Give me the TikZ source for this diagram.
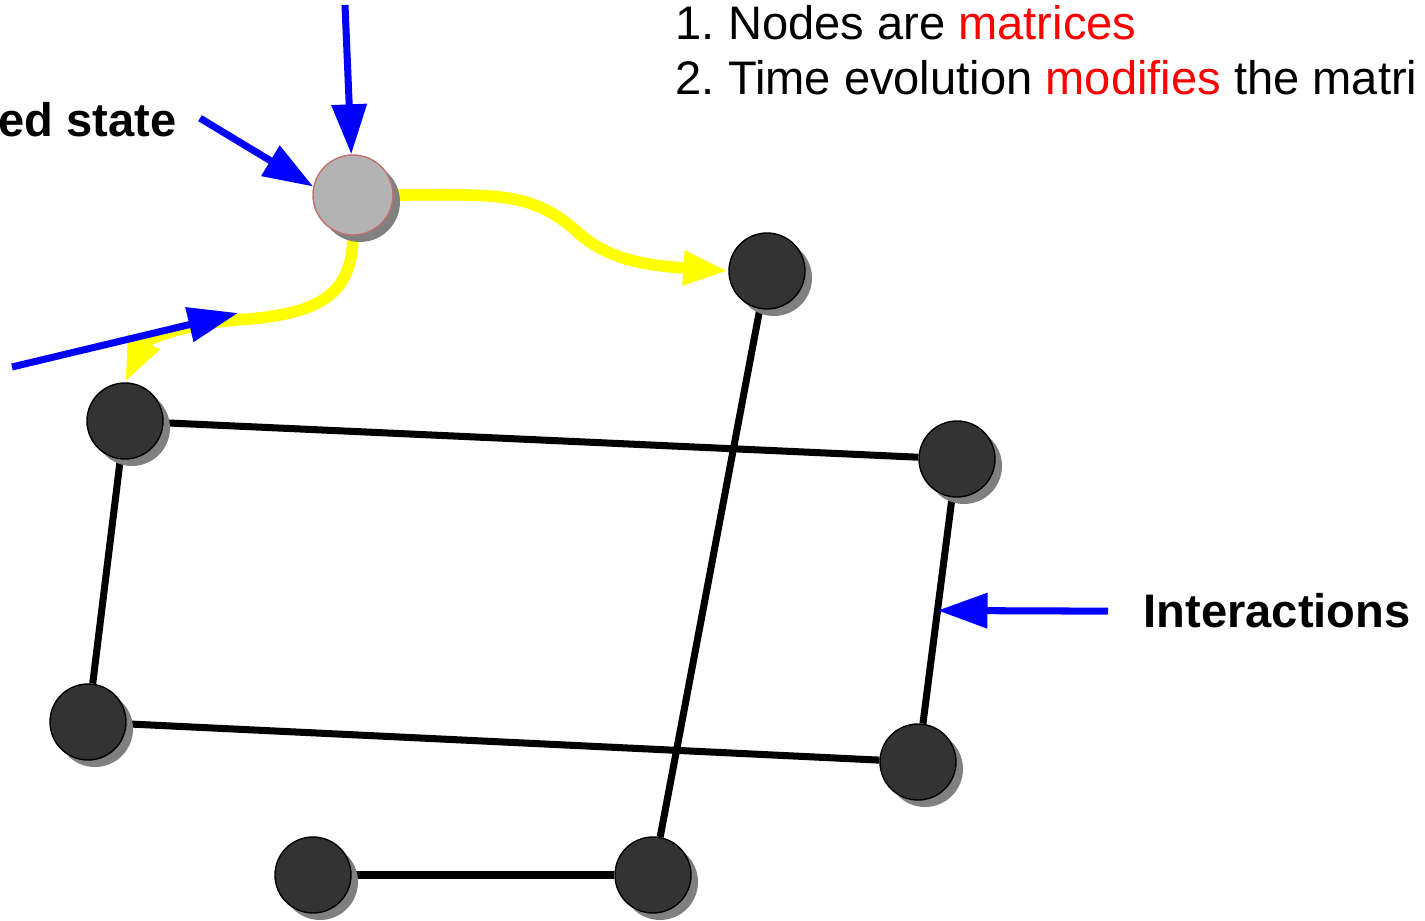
\documentclass[tikz,border=0pt]{standalone}
\usepackage{fontspec}
\setmainfont{Liberation Sans}
\frenchspacing
\usetikzlibrary{arrows.meta,shadows,backgrounds}
\definecolor{azul}{HTML}{0000FF}
\definecolor{rojo}{HTML}{FF0000}
\definecolor{amarillo}{HTML}{FFFF00}
\definecolor{oscuro}{HTML}{333333}
\definecolor{claro}{HTML}{B3B3B3}
\definecolor{sombra}{HTML}{808080}
\definecolor{borde}{HTML}{C07070}
\tikzset{
  nodo/.style={circle,draw=black,thin,fill=oscuro,minimum size=7.6mm,inner sep=0pt,
    drop shadow={shadow xshift=0.7mm,shadow yshift=-0.7mm,fill=sombra,opacity=1}},
  nodogris/.style={nodo,draw=borde,fill=claro,minimum size=8mm},
  enlace/.style={line width=2pt,black},
  flecha/.style={-{Triangle[length=5mm,width=3.4mm]},line width=2pt,azul},
  camino/.style={-{Triangle[length=4.5mm,width=3.2mm]},line width=3.3pt,amarillo},
  rotulo/.style={font=\fontsize{13.4pt}{16pt}\selectfont\bfseries,inner sep=0pt},
  texto/.style={font=\fontsize{13.4pt}{16pt}\selectfont,inner sep=0pt},
}

\begin{document}
\begin{tikzpicture}
  \useasboundingbox (0,0) rectangle (14.25,-9.21);
  \node[nodogris] (G) at (3.53,-1.95) {};
  \node[nodo] (N1) at (7.67,-2.71) {};
  \node[nodo] (A) at (1.25,-4.21) {};
  \node[nodo] (B) at (9.57,-4.59) {};
  \node[nodo] (C) at (0.88,-7.22) {};
  \node[nodo] (D) at (9.18,-7.62) {};
  \node[nodo] (E) at (6.53,-8.75) {};
  \node[nodo] (F) at (3.13,-8.75) {};
  \begin{scope}[on background layer]
    \draw[enlace] (A) -- (B);
    \draw[enlace] (A) -- (C);
    \draw[enlace] (C) -- (D);
    \draw[enlace] (B) -- coordinate (bd) (D);
    \draw[enlace] (N1) -- (E);
    \draw[enlace] (F) -- (E);
    \draw[camino] (G.east) .. controls (4.9,-1.95) and (5.3,-1.9) .. (5.75,-2.3)
      .. controls (6.05,-2.58) and (6.4,-2.65) .. (N1.west);
    \draw[camino] (G.south) .. controls (3.52,-2.95) and (3.2,-3.15) .. (2.35,-3.2)
      .. controls (1.8,-3.25) and (1.45,-3.4) .. (A.north);
  \end{scope}
  \node[rotulo,anchor=base east] (estado) at (1.77,-1.37) {ed state};
  \node[rotulo,anchor=base west] (inter) at (11.43,-6.28) {Interactions};
  \node[texto,anchor=base west] (l1) at (6.75,-0.40) {1. Nodes are \textcolor{rojo}{matrices}};
  \node[texto,anchor=base west] (l2) at (6.75,-0.95) {2. Time evolution \textcolor{rojo}{modifies} the matri};
  \coordinate (arriba) at (3.45,-0.05);
  \coordinate (izq) at (0.12,-3.67);
  \coordinate (cruce) at (2.38,-3.13);
  \draw[flecha] (arriba) -- (G);
  \draw[flecha] ([xshift=2.3mm,yshift=0.2mm]estado.east) -- (G.168);
  \draw[flecha] (izq) -- (cruce);
  \draw[flecha] ([xshift=-3.5mm]inter.west) -- (bd);
\end{tikzpicture}
\end{document}
